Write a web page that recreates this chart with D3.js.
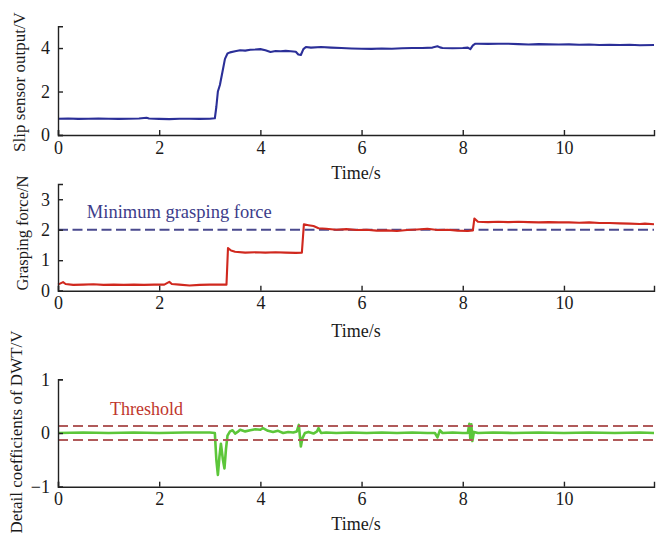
<!DOCTYPE html>
<html>
<head>
<meta charset="utf-8">
<script src="https://cdn.jsdelivr.net/npm/d3@7"></script>
<style>
  body { margin: 0; background: #fff; }
  svg { display: block; }
  text { font-family: "Liberation Serif", "Times New Roman", serif; }
</style>
</head>
<body>
<svg id="chart" width="656" height="535"></svg>
<script>
// Shared time axis
const timeTicks = [0, 2, 4, 6, 8, 10];
const timeMax = 11.78;

// Slip sensor output (V)
const slipTime = [0, 0.2, 0.4, 0.6, 0.8, 1.0, 1.2, 1.4, 1.6, 1.75, 1.8, 2.0, 2.2, 2.4, 2.6, 2.8, 3.0, 3.1, 3.13, 3.16, 3.2, 3.25, 3.3, 3.35, 3.4, 3.5, 3.6, 3.7, 3.8, 3.9, 4.0, 4.1, 4.2, 4.3, 4.4, 4.5, 4.6, 4.7, 4.75, 4.8, 4.85, 4.9, 5.0, 5.2, 5.4, 5.6, 5.8, 6.0, 6.2, 6.4, 6.6, 6.8, 7.0, 7.2, 7.4, 7.5, 7.55, 7.6, 7.8, 8.0, 8.1, 8.15, 8.2, 8.25, 8.3, 8.5, 8.7, 8.9, 9.1, 9.3, 9.5, 9.7, 9.9, 10.1, 10.3, 10.5, 10.7, 10.9, 11.1, 11.3, 11.5, 11.78];
const slipVolt = [0.75, 0.76, 0.74, 0.75, 0.76, 0.75, 0.74, 0.75, 0.76, 0.79, 0.76, 0.74, 0.73, 0.75, 0.75, 0.74, 0.75, 0.77, 1.3, 2.0, 2.3, 2.9, 3.5, 3.75, 3.8, 3.85, 3.9, 3.88, 3.92, 3.93, 3.95, 3.9, 3.82, 3.86, 3.85, 3.87, 3.85, 3.83, 3.7, 3.68, 3.95, 4.05, 4.02, 4.05, 4.02, 4.0, 3.98, 3.97, 3.96, 3.98, 3.97, 3.99, 4.0, 4.0, 4.02, 4.08, 4.03, 4.0, 3.99, 4.0, 4.02, 3.95, 4.12, 4.2, 4.2, 4.19, 4.2, 4.2, 4.18, 4.16, 4.18, 4.17, 4.16, 4.17, 4.15, 4.16, 4.14, 4.15, 4.14, 4.15, 4.13, 4.14];

// Grasping force (N)
const forceTime = [0, 0.1, 0.15, 0.3, 0.5, 0.7, 0.9, 1.1, 1.3, 1.5, 1.7, 1.9, 2.1, 2.2, 2.25, 2.4, 2.6, 2.8, 3.0, 3.2, 3.33, 3.36, 3.42, 3.5, 3.7, 3.9, 4.1, 4.3, 4.5, 4.7, 4.82, 4.86, 4.95, 5.05, 5.15, 5.3, 5.5, 5.7, 5.9, 6.1, 6.3, 6.5, 6.7, 6.9, 7.1, 7.3, 7.5, 7.7, 7.9, 8.1, 8.2, 8.23, 8.3, 8.5, 8.7, 8.9, 9.1, 9.3, 9.5, 9.7, 9.9, 10.1, 10.3, 10.5, 10.7, 10.9, 11.1, 11.3, 11.5, 11.6, 11.78];
const forceVal = [0.2, 0.28, 0.22, 0.19, 0.2, 0.21, 0.19, 0.2, 0.19, 0.2, 0.19, 0.2, 0.2, 0.29, 0.22, 0.2, 0.17, 0.19, 0.2, 0.2, 0.2, 1.4, 1.32, 1.28, 1.25, 1.26, 1.25, 1.26, 1.25, 1.24, 1.25, 2.18, 2.15, 2.12, 2.05, 2.03, 2.0, 2.02, 1.99, 2.0, 1.97, 1.98, 1.96, 1.99, 2.01, 2.03, 1.99, 2.0, 1.97, 1.96, 1.98, 2.37, 2.26, 2.25, 2.26, 2.25, 2.26, 2.25, 2.24, 2.25, 2.24, 2.24, 2.23, 2.24, 2.22, 2.22, 2.21, 2.2, 2.19, 2.2, 2.18];
const minGraspForce = 2;

// Detail coefficients of DWT (V)
const dwtTime = [0, 0.5, 1.0, 1.5, 2.0, 2.5, 3.0, 3.1, 3.13, 3.16, 3.19, 3.22, 3.26, 3.29, 3.32, 3.35, 3.4, 3.45, 3.5, 3.55, 3.6, 3.7, 3.8, 3.9, 4.0, 4.05, 4.15, 4.25, 4.35, 4.45, 4.55, 4.65, 4.72, 4.76, 4.78, 4.8, 4.83, 4.88, 4.95, 5.05, 5.12, 5.15, 5.2, 5.3, 5.5, 5.8, 6.1, 6.4, 6.7, 7.0, 7.3, 7.45, 7.5, 7.55, 7.6, 7.8, 8.0, 8.1, 8.13, 8.15, 8.17, 8.19, 8.22, 8.3, 8.6, 9.0, 9.5, 10.0, 10.5, 11.0, 11.5, 11.78];
const dwtVal = [0.0, 0.01, 0.0, 0.01, 0.0, 0.01, 0.01, 0.0, -0.5, -0.78, -0.45, -0.2, -0.5, -0.66, -0.3, -0.05, 0.03, 0.05, -0.01, 0.02, 0.06, 0.03, 0.05, 0.07, 0.06, 0.09, 0.04, 0.02, 0.04, 0.0, 0.02, 0.01, 0.03, 0.15, -0.05, -0.25, -0.1, 0.0, 0.02, -0.01, 0.03, 0.09, 0.0, 0.01, 0.0, 0.01, 0.0, 0.01, 0.0, 0.01, 0.0, 0.0, -0.08, 0.05, 0.0, 0.01, 0.0, 0.0, 0.17, -0.12, 0.16, -0.15, 0.02, 0.0, 0.01, 0.0, 0.01, 0.0, 0.01, 0.0, 0.01, 0.0];
const threshold = 0.13;

const svg = d3.select("#chart");
const x = d3.scaleLinear().domain([0, timeMax]).range([58, 654]);

const panels = [
  { time: slipTime, vals: slipVolt, domain: [0, 5], range: [135, 26.3], ticks: [0, 2, 4],
    color: "#2b2f98", width: 2.1, ylabel: "Slip sensor output/V", ylabelX: 25, ylabelY: 82, ylabelSize: 17, xlabelY: 179 },
  { time: forceTime, vals: forceVal, domain: [0, 3.5], range: [290.7, 184], ticks: [0, 1, 2, 3],
    color: "#d0281e", width: 2.1, ylabel: "Grasping force/N", ylabelX: 28, ylabelY: 233, ylabelSize: 16.5, xlabelY: 337 },
  { time: dwtTime, vals: dwtVal, domain: [-1, 1], range: [486.7, 379.3], ticks: [-1, 0, 1],
    color: "#5cc63a", width: 2.6, ylabel: "Detail coefficients of DWT/V", ylabelX: 22, ylabelY: 432, ylabelSize: 17, xlabelY: 530 }
];

panels.forEach((p, i) => {
  const y = d3.scaleLinear().domain(p.domain).range(p.range);
  p.y = y;
  const g = svg.append("g");

  // Reference line under the force trace
  if (i === 1) {
    g.append("line")
      .attr("x1", x(0)).attr("x2", x(timeMax))
      .attr("y1", y(minGraspForce)).attr("y2", y(minGraspForce))
      .attr("stroke", "#4a4a8e").attr("stroke-width", 1.8).attr("stroke-dasharray", "10,4.5");
  }

  const line = d3.line().x(d => x(d[0])).y(d => y(d[1]));
  g.append("path")
    .datum(d3.zip(p.time, p.vals))
    .attr("fill", "none")
    .attr("stroke", p.color)
    .attr("stroke-width", p.width)
    .attr("stroke-linejoin", "round")
    .attr("d", line);

  if (i === 2) {
    [threshold, -threshold].forEach(v => {
      g.append("line")
        .attr("x1", x(0)).attr("x2", x(timeMax))
        .attr("y1", y(v)).attr("y2", y(v))
        .attr("stroke", "#b05a5a").attr("stroke-width", 1.8).attr("stroke-dasharray", "10,5");
    });
  }

  // Axes: left and bottom only, ticks pointing inward
  const xAxis = d3.axisBottom(x).tickValues(timeTicks).tickFormat(d3.format("d"))
    .tickSizeInner(-5).tickSizeOuter(-5).tickPadding(6);
  const yAxis = d3.axisLeft(y).tickValues(p.ticks).tickFormat(d3.format("d"))
    .tickSizeInner(-5).tickSizeOuter(-5).tickPadding(8);

  const gx = g.append("g").attr("transform", `translate(0,${p.range[0]})`).call(xAxis);
  const gy = g.append("g").attr("transform", `translate(${x(0)},0)`).call(yAxis);
  [gx, gy].forEach(a => {
    a.selectAll("path, line").attr("stroke", "#222").attr("stroke-width", 1.4);
    a.selectAll("text").attr("fill", "#1a1a1a").style("font-size", "18px")
      .style("font-family", "'Liberation Serif','Times New Roman',serif");
  });

  g.append("text")
    .attr("x", (x(0) + x(timeMax)) / 2).attr("y", p.xlabelY)
    .attr("text-anchor", "middle").attr("fill", "#1a1a1a").style("font-size", "18px")
    .text("Time/s");

  g.append("text")
    .attr("transform", `translate(${p.ylabelX},${p.ylabelY}) rotate(-90)`)
    .attr("text-anchor", "middle").attr("fill", "#1a1a1a").style("font-size", p.ylabelSize + "px")
    .text(p.ylabel);
});

// Annotations
svg.append("text")
  .attr("x", x(0.57)).attr("y", panels[1].y(2.4))
  .attr("fill", "#3c3c8a").style("font-size", "18.5px")
  .text("Minimum grasping force");

svg.append("text")
  .attr("x", x(1.03)).attr("y", panels[2].y(0.33))
  .attr("fill", "#c0362c").style("font-size", "18px")
  .text("Threshold");
</script>
</body>
</html>
